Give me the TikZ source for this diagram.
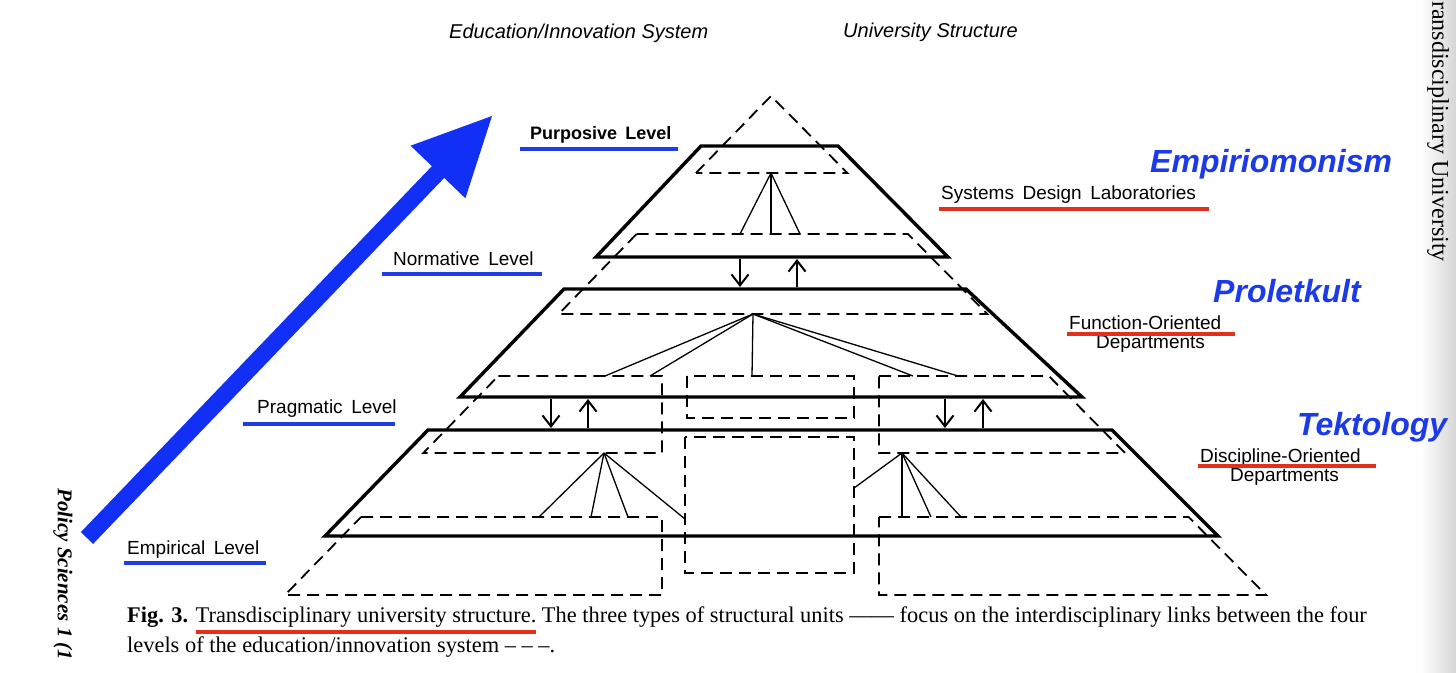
\documentclass[tikz,border=0pt]{standalone}
\usepackage{fontspec}
\setmainfont{Liberation Serif}
\setsansfont{Liberation Sans}
\usetikzlibrary{arrows.meta}
\definecolor{arrowblue}{RGB}{18,48,245}
\definecolor{textblue}{RGB}{28,58,232}
\definecolor{lineblue}{RGB}{30,62,225}
\definecolor{linered}{RGB}{226,48,28}
\newcommand{\fsz}[1]{\fontsize{#1}{#1}\selectfont}
\newcommand{\wsp}{\hspace{0.45em}}
\newcommand{\capunderline}[1]{\leavevmode\setbox0\hbox{#1}\rlap{\color{linered}\rule[-12pt]{\wd0}{4pt}}\box0\relax}
\tikzset{
  unitbox/.style={line width=3.4pt, line join=miter},
  levelline/.style={line width=1.8pt, dash pattern=on 12pt off 7pt},
  link/.style={line width=1.3pt},
  flow/.style={line width=2pt, -{Straight Barb[length=11pt,width=17pt,line width=2pt]}},
  lvl/.style={font=\sffamily\fsz{19}, inner sep=0pt, anchor=base west},
  bluew/.style={font=\sffamily\bfseries\itshape\fsz{32}, text=textblue, inner sep=0pt, anchor=base west},
  hdr/.style={font=\sffamily\itshape\fsz{20}, inner sep=0pt, anchor=base west},
  capt/.style={font=\fsz{22.4}, inner sep=0pt, anchor=base west},
  ulblue/.style={draw=lineblue, line width=4pt},
  ulred/.style={draw=linered, line width=4.5pt}
}
\begin{document}
\begin{tikzpicture}[x=1pt,y=-1pt]
\useasboundingbox (0,0) rectangle (1456,672);
\clip (0,0) rectangle (1456,672);
\shade[left color=white, right color=black!16] (1420,0) rectangle (1456,672);

% ---- levels of the education/innovation system (dashed)
\draw[levelline] (696,173) -- (771,96) -- (847.4,173) -- cycle;
\draw[levelline] (636.6,234) -- (907.9,234) -- (987.3,314) -- (558.7,314) -- cycle;
\draw[levelline] (498.3,376) -- (662,376) -- (662,453) -- (423.3,453) -- cycle;
\draw[levelline] (687,376) rectangle (854,418);
\draw[levelline] (879,376) -- (1048.8,376) -- (1125.1,453) -- (879,453) -- cycle;
\draw[levelline] (361,517) -- (662,517) -- (662,595) -- (285,595) -- cycle;
\draw[levelline] (685,437) rectangle (854,573);
\draw[levelline] (879,517) -- (1188.6,517) -- (1266,595) -- (879,595) -- cycle;

% ---- structural units (solid)
\draw[unitbox] (701,146) -- (838,146) -- (948,257) -- (596,257) -- cycle;
\draw[unitbox] (564,289) -- (966,289) -- (1082,397) -- (460,397) -- cycle;
\draw[unitbox] (428,430) -- (1112,430) -- (1218,536) -- (325,536) -- cycle;

% ---- links inside units
\coordinate (h1) at (771,173);
\coordinate (h1a) at (740,234);
\coordinate (h1b) at (771,234);
\coordinate (h1c) at (800,234);
\draw[link] (h1a) -- (h1) -- (h1c);
\draw[link] (h1) -- (h1b);

\coordinate (h2) at (753,314);
\coordinate (h2a) at (605,376);
\coordinate (h2b) at (650,376);
\coordinate (h2c) at (752,376);
\coordinate (h2d) at (913,376);
\coordinate (h2e) at (958,376);
\draw[link] (h2) -- (h2a);
\draw[link] (h2) -- (h2b);
\draw[link] (h2) -- (h2c);
\draw[link] (h2) -- (h2d);
\draw[link] (h2) -- (h2e);

\coordinate (h3) at (604,453);
\coordinate (h3a) at (539,517);
\coordinate (h3b) at (591,517);
\coordinate (h3c) at (628,517);
\coordinate (h3d) at (685,519);
\draw[link] (h3) -- (h3a);
\draw[link] (h3) -- (h3b);
\draw[link] (h3) -- (h3c);
\draw[link] (h3) -- (h3d);

\coordinate (h4) at (902,453);
\coordinate (h4a) at (854,488);
\coordinate (h4b) at (902,517);
\coordinate (h4c) at (931,517);
\coordinate (h4d) at (961,517);
\draw[link] (h4) -- (h4a);
\draw[link] (h4) -- (h4b);
\draw[link] (h4) -- (h4c);
\draw[link] (h4) -- (h4d);

% ---- arrows between units
\coordinate (d1s) at (740,259); \coordinate (d1e) at (740,287);
\coordinate (u1s) at (797,287); \coordinate (u1e) at (797,259);
\coordinate (d2s) at (551,399); \coordinate (d2e) at (551,428);
\coordinate (u2s) at (588,428); \coordinate (u2e) at (588,399);
\coordinate (d3s) at (945,399); \coordinate (d3e) at (945,428);
\coordinate (u3s) at (983,428); \coordinate (u3e) at (983,399);
\draw[flow] (d1s) -- (d1e);
\draw[flow] (u1s) -- (u1e);
\draw[flow] (d2s) -- (d2e);
\draw[flow] (u2s) -- (u2e);
\draw[flow] (d3s) -- (d3e);
\draw[flow] (u3s) -- (u3e);

% ---- big blue arrow
\coordinate (bt) at (87,538);
\coordinate (bb) at (440,170);
\coordinate (bh) at (492,116);
\coordinate (bl) at (410.6,145.7);
\coordinate (br) at (465.4,198.3);
\draw[arrowblue, line width=17pt] (bt) -- (bb);
\fill[arrowblue] (bh) -- (bl) -- (br) -- cycle;

% ---- headers
\node[hdr] (hedu) at (449,38) {Education/Innovation System};
\node[hdr] (huni) at (843,37) {University Structure};

% ---- level labels
\node[lvl, font=\sffamily\bfseries\fsz{18}] (lpur) at (530,139) {Purposive\wsp Level};
\draw[ulblue] (520,149) -- (678,149);
\node[lvl] (lnor) at (393,265) {Normative\wsp Level};
\draw[ulblue] (382,274) -- (542,274);
\node[lvl] (lpra) at (257,413) {Pragmatic\wsp Level};
\draw[ulblue] (243,424) -- (395,424);
\node[lvl] (lemp) at (127,554) {Empirical\wsp Level};
\draw[ulblue] (124,563) -- (266,563);

% ---- unit labels
\node[lvl] (lsys) at (941,199) {Systems\wsp Design\wsp Laboratories};
\draw[ulred] (939,209) -- (1209,209);
\node[lvl] (lfun) at (1069,329) {Function-Oriented};
\node[lvl] (lfdep) at (1096,348) {Departments};
\draw[ulred] (1067,334) -- (1235,334);
\node[lvl] (ldis) at (1200,462) {Discipline-Oriented};
\node[lvl] (lddep) at (1230,481) {Departments};
\draw[ulred] (1198,466) -- (1376,466);

% ---- blue words
\node[bluew] (wemp) at (1150,172) {Empiriomonism};
\node[bluew] (wpro) at (1213,302) {Proletkult};
\node[bluew] (wtek) at (1297,435) {Tektology};

% ---- caption
\node[capt] (cap1) at (127,622) {\textbf{Fig. 3.} \capunderline{Transdisciplinary university structure.} The three types of structural units —— focus on the interdisciplinary links between the four};
\node[capt] (cap2) at (127,652) {levels of the education/innovation system – – –.};

% ---- page margin texts
\node[font=\bfseries\itshape\fsz{21}, rotate=-90, anchor=west, inner sep=0pt] (lside) at (63,488) {Policy Sciences 1 (1};
\node[font=\fsz{24}, rotate=-90, anchor=west, inner sep=0pt] (rside) at (1438,1) {ransdisciplinary University};
\end{tikzpicture}
\end{document}
